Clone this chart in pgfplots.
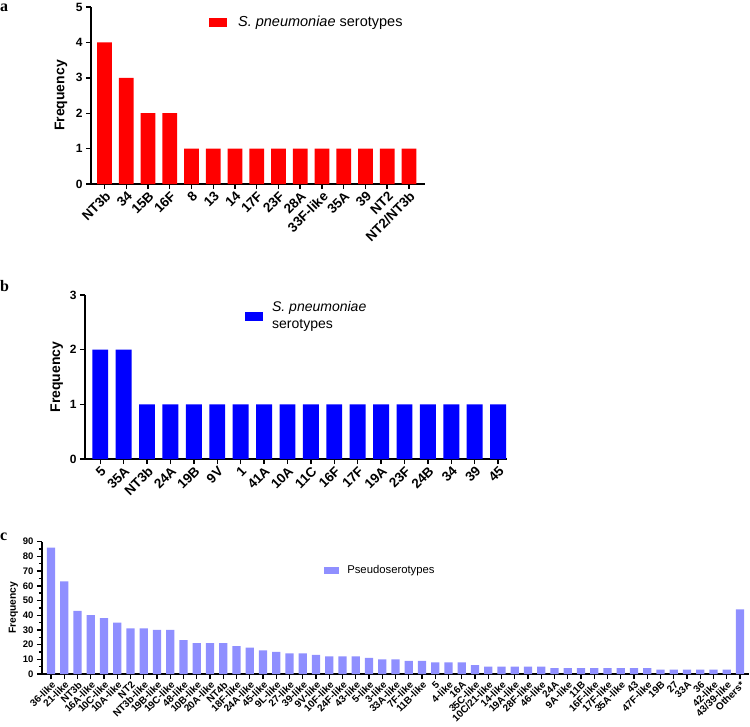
\documentclass[border=0pt]{standalone}
\usepackage{pgfplots}
\pgfplotsset{compat=1.18}
\usepackage{fontspec}
\setmainfont{Liberation Sans}
\newfontfamily\seriffont{Liberation Serif}
\definecolor{cred}{RGB}{255,0,0}
\definecolor{cblue}{RGB}{0,0,255}
\definecolor{cpurp}{RGB}{143,143,255}
\pgfplotsset{
 gp/.style={
  scale only axis, anchor=south west,
  axis x line*=bottom, axis y line*=left,
  axis line style={line width=1.4pt, -},
  every tick/.style={black, line width=1.4pt},
  tick align=outside,
  major tick length=5pt, minor tick length=3pt,
  ymin=0, xtick=data,
  ybar,
  /pgf/number format/assume math mode=true,
  x tick label style={rotate=45, anchor=north east, inner sep=1pt},
  legend style={draw=none, fill=none, inner sep=0pt, anchor=west, legend cell align=left},
 }
}
\begin{document}
\begin{tikzpicture}
\useasboundingbox (0pt,0pt) rectangle (750pt,-726pt);
% panel letters
\node[anchor=base west, inner sep=0pt, font=\seriffont\bfseries\fontsize{16}{18}\selectfont] at (0pt,-11pt) {a};
\node[anchor=base west, inner sep=0pt, font=\seriffont\bfseries\fontsize{16}{18}\selectfont] at (0pt,-291pt) {b};
\node[anchor=base west, inner sep=0pt, font=\seriffont\bfseries\fontsize{16}{18}\selectfont] at (0pt,-540pt) {c};
% panel a
\begin{axis}[gp, at={(91pt,-184pt)}, width=334pt, height=177pt,
  xmin=-0.62, xmax=14.74, ymax=5, ytick={0,1,2,3,4,5},
  bar width=0.675,
  xticklabels={NT3b,34,15B,16F,8,13,14,17F,23F,28A,33F-like,35A,39,NT2,NT2/NT3b},
  x tick label style={font=\fontsize{13.5}{15}\selectfont\bfseries},
  y tick label style={font=\fontsize{12}{13}\selectfont\bfseries},
  ylabel={Frequency},
  y label style={at={(axis description cs:-0.09,0.5)}, anchor=center, font=\fontsize{14}{16}\selectfont\bfseries},
  legend style={at={(axis description cs:0.353,0.915)}, font=\fontsize{14.5}{17}\selectfont, column sep=9pt},
  ]
\addplot[fill=cred, draw=none, legend image code/.code={\fill[cred] (0pt,-4.5pt) rectangle (18pt,4.5pt);}]
 coordinates {(0,4)(1,3)(2,2)(3,2)(4,1)(5,1)(6,1)(7,1)(8,1)(9,1)(10,1)(11,1)(12,1)(13,1)(14,1)};
\addlegendentry{\textit{S. pneumoniae} serotypes}
\end{axis}
% panel b
\begin{axis}[gp, at={(85pt,-459pt)}, width=422pt, height=164pt,
  xmin=-0.65, xmax=17.38, ymax=3, ytick={0,1,2,3},
  bar width=0.68,
  xticklabels={5,35A,NT3b,24A,19B,9V,1,41A,10A,11C,16F,17F,19A,23F,24B,34,39,45},
  x tick label style={font=\fontsize{13.5}{15}\selectfont\bfseries},
  y tick label style={font=\fontsize{12}{13}\selectfont\bfseries},
  ylabel={Frequency},
  y label style={at={(axis description cs:-0.067,0.5)}, anchor=center, font=\fontsize{14}{16}\selectfont\bfseries},
  legend style={at={(axis description cs:0.379,0.872)}, font=\fontsize{14}{17}\selectfont, nodes={align=left}, column sep=7pt},
  ]
\addplot[fill=cblue, draw=none, legend image code/.code={\fill[cblue] (0pt,-4.5pt) rectangle (18pt,4.5pt);}]
 coordinates {(0,2)(1,2)(2,1)(3,1)(4,1)(5,1)(6,1)(7,1)(8,1)(9,1)(10,1)(11,1)(12,1)(13,1)(14,1)(15,1)(16,1)(17,1)};
\addlegendentry{\textit{S. pneumoniae}\\serotypes}
\end{axis}
% panel c
\begin{axis}[gp, at={(42pt,-674pt)}, width=707pt, height=132.3pt,
  xmin=-0.68, xmax=52.68, ymax=90, ytick={0,10,...,90}, minor y tick num=1,
  bar width=0.64,
  xticklabels={36-like,21-like,NT3b,16A-like,10C-like,10A-like,NT2,NT3b-like,19B-like,19C-like,48-like,10B-like,20A-like,NT4b,18F-like,24A-like,45-like,9L-like,27-like,39-like,9V-like,10F-like,24F-like,43-like,5-like,3-like,33A-like,7F-like,11B-like,5,4-like,16A,35C-like,10C/21-like,14-like,19A-like,28F-like,46-like,24A,9A-like,11B,16F-like,17F-like,35A-like,43,47F-like,19B,27,33A,36,42-like,43/39-like,Others*},
  x tick label style={font=\fontsize{10}{11}\selectfont\bfseries},
  y tick label style={font=\fontsize{9.5}{10}\selectfont\bfseries},
  ylabel={Frequency},
  y label style={at={(axis description cs:-0.0406,0.5)}, anchor=center, font=\fontsize{10.3}{12}\selectfont\bfseries},
  legend style={at={(axis description cs:0.399,0.786)}, font=\fontsize{11.3}{13}\selectfont, column sep=6pt},
  ]
\addplot[fill=cpurp, draw=none, legend image code/.code={\fill[cpurp] (0pt,-3.5pt) rectangle (15pt,3.5pt);}]
 coordinates {(0,86)(1,63)(2,43)(3,40)(4,38)(5,35)(6,31)(7,31)(8,30)(9,30)(10,23)(11,21)(12,21)(13,21)(14,19)(15,18)(16,16)(17,15)(18,14)(19,14)(20,13)(21,12)(22,12)(23,12)(24,11)(25,10)(26,10)(27,9)(28,9)(29,8)(30,8)(31,8)(32,6)(33,5)(34,5)(35,5)(36,5)(37,5)(38,4)(39,4)(40,4)(41,4)(42,4)(43,4)(44,4)(45,4)(46,3)(47,3)(48,3)(49,3)(50,3)(51,3)(52,44)};
\addlegendentry{Pseudoserotypes}
\end{axis}
\end{tikzpicture}
\end{document}
